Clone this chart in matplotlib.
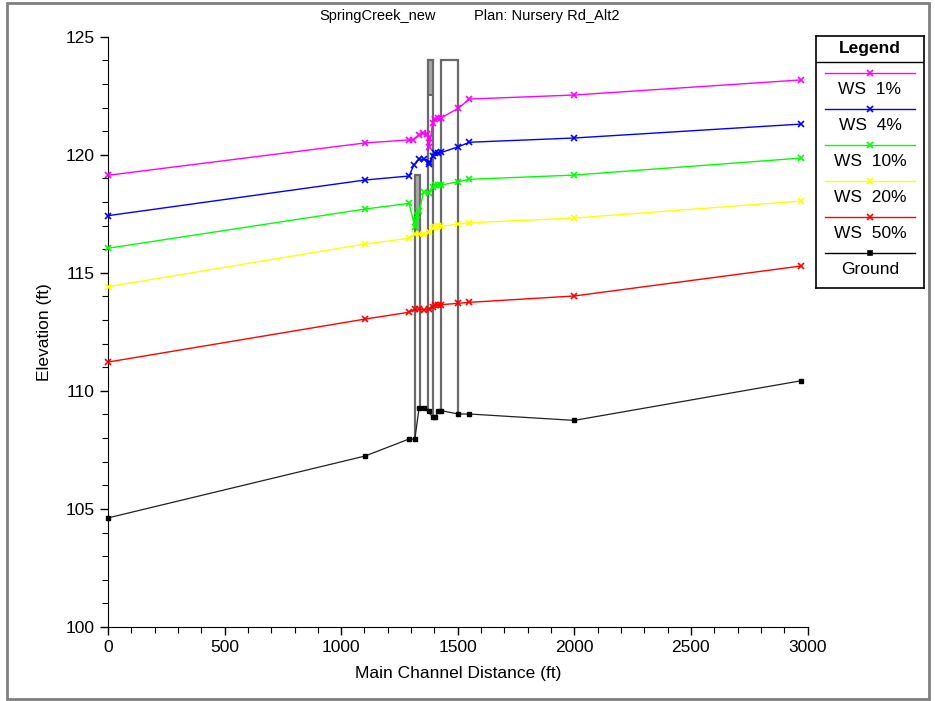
import matplotlib
matplotlib.use("Agg")
import matplotlib.pyplot as plt
from matplotlib.patches import Rectangle

plt.rcParams['font.family'] = ['Liberation Sans', 'DejaVu Sans']

# river stations (ft) of the cross sections
stations = [0, 1102, 1291, 1316, 1334, 1354, 1375, 1392, 1403, 1417, 1430, 1503, 1550, 2000, 2973]
ground = [104.62, 107.24, 107.96, 107.96, 109.26, 109.26, 109.14, 108.88, 108.88, 109.14, 109.16,
          109.02, 109.02, 108.75, 110.43]

# water surface profiles (some stations repeat at the bridge)
ws1_x = [0, 1102, 1291, 1309, 1334, 1350, 1368, 1375, 1378, 1392, 1403, 1417, 1430, 1503, 1550, 2000, 2973]
ws1_y = [119.13, 120.50, 120.63, 120.63, 120.84, 120.91, 120.88, 120.70, 120.34, 121.33, 121.50,
         121.55, 121.57, 121.97, 122.36, 122.53, 123.17]
ws4_x = [0, 1102, 1291, 1312, 1334, 1354, 1375, 1378, 1392, 1403, 1417, 1430, 1503, 1550, 2000, 2973]
ws4_y = [117.42, 118.93, 119.10, 119.57, 119.81, 119.81, 119.71, 119.61, 119.95, 120.06, 120.08,
         120.10, 120.34, 120.53, 120.71, 121.30]
ws10_x = [0, 1102, 1291, 1316, 1320, 1326, 1334, 1354, 1375, 1392, 1403, 1417, 1430, 1503, 1550, 2000, 2973]
ws10_y = [116.04, 117.70, 117.94, 116.95, 117.20, 117.45, 117.60, 118.44, 118.40, 118.65, 118.70,
          118.72, 118.72, 118.86, 118.96, 119.14, 119.86]
ws20_x = stations
ws20_y = [114.41, 116.22, 116.46, 116.63, 116.63, 116.63, 116.74, 116.89, 116.95, 116.97, 116.97,
          117.07, 117.12, 117.32, 118.04]
ws50_x = stations
ws50_y = [111.22, 113.04, 113.33, 113.47, 113.47, 113.43, 113.46, 113.57, 113.64, 113.64, 113.65,
          113.71, 113.75, 114.02, 115.29]

# bridge / culvert structures: left, right, top, low chord (None = open)
struct_left = [1316, 1373, 1427]
struct_right = [1337, 1392, 1503]
struct_top = [119.15, 124.0, 124.0]
struct_low = [116.6, 122.53, None]
struct_gl = [107.96, 109.14, 109.16]
struct_gr = [109.26, 108.88, 109.02]

profiles = [
    ('WS  1%', ws1_x, ws1_y, '#ff00ff'),
    ('WS  4%', ws4_x, ws4_y, '#0000ff'),
    ('WS  10%', ws10_x, ws10_y, '#00ff00'),
    ('WS  20%', ws20_x, ws20_y, '#ffff00'),
    ('WS  50%', ws50_x, ws50_y, '#ff0000'),
]

fig = plt.figure(figsize=(9.35, 7.01), dpi=100)
fig.patches.append(Rectangle((0.008, 0.003), 0.986, 0.993, transform=fig.transFigure,
                             fill=False, edgecolor='#808080', lw=2))

ax = fig.add_axes([108 / 935, 74 / 701, 699.5 / 935, 590.3 / 701])

# structures
for xl, xr, top, low, gl, gr in zip(struct_left, struct_right, struct_top, struct_low, struct_gl, struct_gr):
    if low is not None:
        ax.fill([xl, xr, xr, xl], [low, low, top, top], facecolor='#a8a8a8',
                edgecolor='#505050', lw=1.2, zorder=1)
    ax.plot([xl, xl, xr, xr], [gl, top, top, gr], color='#6a6a6a', lw=1.6, zorder=1,
            solid_joinstyle='miter')

for label, xs, ys, col in profiles:
    ax.plot(xs, ys, color=col, lw=1, marker='x', ms=4.5, mew=1.2, zorder=3, clip_on=False)

ax.plot(stations, ground, color='#202020', lw=0.9, marker='s', ms=3.5, mfc='black', mec='black',
        zorder=3, clip_on=False)

ax.set_xlim(0, 3000)
ax.set_ylim(100, 125)
ax.set_xticks(range(0, 3001, 500))
ax.set_xticks(range(0, 3001, 100), minor=True)
ax.set_yticks(range(100, 126, 5))
ax.set_yticks(range(100, 126, 1), minor=True)
ax.spines['top'].set_visible(False)
ax.spines['right'].set_visible(False)
ax.tick_params(which='major', length=6, width=1, labelsize=12.5)
ax.tick_params(which='minor', length=4, width=0.8)
ax.set_xlabel('Main Channel Distance (ft)', fontsize=12.5, labelpad=8)
ax.set_ylabel('Elevation (ft)', fontsize=12.5, labelpad=10)

fig.text(378 / 935, 1 - 16 / 701, 'SpringCreek_new', ha='center', va='center', fontsize=10.5)
fig.text(547 / 935, 1 - 16 / 701, 'Plan: Nursery Rd_Alt2', ha='center', va='center', fontsize=10.5)

# legend box
lg = fig.add_axes([816 / 935, 1 - 288.3 / 701, 108.3 / 935, 252.3 / 701])
lg.set_xlim(0, 108.3)
lg.set_ylim(252.3, 0)
lg.set_xticks([])
lg.set_yticks([])
for s in lg.spines.values():
    s.set_linewidth(1.2)
lg.axhline(26.3, color='black', lw=1)
lg.text(54, 13, 'Legend', ha='center', va='center', fontsize=12.5, fontweight='bold')
entries = [(p[0], p[3], 'x') for p in profiles] + [('Ground', 'black', 's')]
for i, (label, col, mk) in enumerate(entries):
    y_line = 36.7 + 36 * i
    lg.plot([9, 99], [y_line, y_line], color=col, lw=1)
    lg.plot([54], [y_line], color=col, marker=mk, ms=4.5 if mk == 'x' else 3.5, mew=1.2)
    lg.text(54, y_line + 17, label, ha='center', va='center', fontsize=12.5)

fig.savefig('out.png', dpi=100)
